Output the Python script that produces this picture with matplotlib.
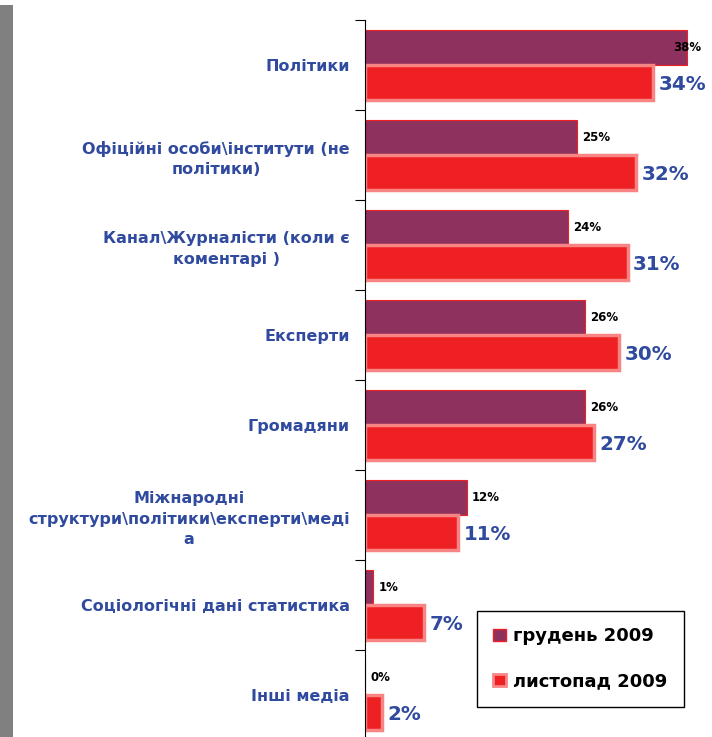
import matplotlib.pyplot as plt
import matplotlib.patches as mpatches
import numpy as np

categories = ['Політики', 'Офіційні особи\\інститути (не\nполітики)',
              'Канал\\Журналісти (коли є\nкоментарі )', 'Експерти', 'Громадяни',
              'Міжнародні\nструктури\\політики\\експерти\\меді\nа',
              'Соціологічні дані статистика', 'Інші медіа']
dec_2009 = [38, 25, 24, 26, 26, 12, 1, 0]
nov_2009 = [34, 32, 31, 30, 27, 11, 7, 2]
series_names = ['грудень 2009', 'листопад 2009']

purple = '#8F315E'
red = '#EE2024'
light_red = '#F88484'
blue = '#2F4A9E'

fig = plt.figure(figsize=(7.12, 7.37), dpi=100)
fig.patches.append(mpatches.Rectangle((0, 0), 13 / 712, 732 / 737, transform=fig.transFigure,
                                      facecolor='#808080', edgecolor='none', zorder=0))

ax = fig.add_axes([365 / 712, -3 / 737, 340 / 712, 720 / 737])
y = np.arange(len(categories))
h = 35 / 90
ax.barh(y - h / 2, dec_2009, height=h, color=purple, edgecolor=red, linewidth=0.8)
ax.barh(y + h / 2, nov_2009, height=h, color=red, edgecolor=light_red, linewidth=2.5)

ax.set_xlim(0, 40.1)
ax.set_ylim(len(categories) - 0.5, -0.5)

for i, v in enumerate(dec_2009):
    xpos = min(v + 0.6, 36.3)
    ax.text(xpos, i - h / 2, f'{v}%', va='center', ha='left', fontsize=8.5,
            fontweight='bold', color='black')
for i, v in enumerate(nov_2009):
    ax.text(v + 0.6, i + h / 2 + 0.02, f'{v}%', va='center', ha='left', fontsize=14.3,
            fontweight='bold', color=blue)

ax.set_yticks(y)
ax.set_yticklabels(categories, fontsize=11.5, fontweight='bold', color=blue,
                   multialignment='center', linespacing=1.45)
ax.tick_params(axis='y', which='major', length=0, pad=11)
ax.set_yticks(np.arange(len(categories) + 1) - 0.5, minor=True)
ax.tick_params(axis='y', which='minor', length=7, width=0.8)
ax.set_xticks([])
for s in ['top', 'right', 'bottom']:
    ax.spines[s].set_visible(False)
ax.spines['left'].set_linewidth(0.8)

handles = [mpatches.Patch(facecolor=purple, edgecolor=red, linewidth=1),
           mpatches.Patch(facecolor=red, edgecolor=light_red, linewidth=2)]
leg = fig.legend(handles, series_names, loc='upper left',
                 bbox_to_anchor=(477 / 712, 1 - 611 / 737), fancybox=False,
                 edgecolor='black', prop={'weight': 'bold', 'size': 13},
                 handlelength=0.7, handleheight=0.7, handletextpad=0.4,
                 labelspacing=1.5, borderpad=0.9, borderaxespad=0,
                 framealpha=1)
leg.get_frame().set_linewidth(1)

fig.savefig('out.png', dpi=100)
